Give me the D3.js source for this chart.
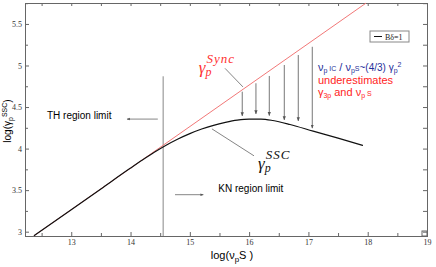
<!DOCTYPE html>
<html>
<head>
<meta charset="utf-8">
<script src="https://cdn.jsdelivr.net/npm/d3@7"></script>
<style>
  body { margin: 0; background: #fff; }
  svg { display: block; }
</style>
</head>
<body>
<script>
// data
var xTicks = [13, 14, 15, 16, 17, 18, 19];
var xMinor = [12.5, 13.5, 14.5, 15.5, 16.5, 17.5, 18.5];
var yTicks = [3, 3.5, 4, 4.5, 5, 5.5];
var yMinor = [3.25, 3.75, 4.25, 4.75, 5.25, 5.75];

var syncX = [12.37, 17.97];
var syncY = [2.95, 5.75];

var sscX = [12.37, 13.0, 13.5, 14.0, 14.2, 14.4, 14.6, 14.8, 15.0, 15.2, 15.4, 15.6, 15.8, 16.0, 16.2, 16.4, 16.69, 17.08, 17.5, 17.92];
var sscY = [2.95, 3.265, 3.515, 3.765, 3.862, 3.955, 4.04, 4.115, 4.18, 4.235, 4.28, 4.315, 4.342, 4.355, 4.355, 4.338, 4.29, 4.21, 4.125, 4.037];

// downward arrows between the two curves
var arrowX = [15.884, 16.115, 16.34, 16.593, 16.829, 17.065];
var arrowTop = [4.685, 4.786, 4.874, 5.006, 5.126, 5.225];
var arrowBottom = [4.393, 4.417, 4.397, 4.345, 4.333, 4.246];

var limitX = 14.55;
var limitTop = 4.87;

var width = 436, height = 267;

var x = d3.scaleLinear().domain([12.22, 19]).range([25, 427]);
var y = d3.scaleLinear().domain([2.948, 5.752]).range([236, 3]);

var svg = d3.select("body").append("svg")
    .attr("width", width)
    .attr("height", height);

var defs = svg.append("defs");
defs.append("marker")
    .attr("id", "head")
    .attr("viewBox", "0 0 10 10")
    .attr("refX", 9).attr("refY", 5)
    .attr("markerWidth", 4).attr("markerHeight", 4)
    .attr("orient", "auto")
  .append("path")
    .attr("d", "M0,1L10,5L0,9Z")
    .attr("fill", "#555");

// axes, ticks pointing inwards
function styleAxis(g) {
    g.select(".domain").attr("stroke", "#666");
    g.selectAll(".tick line").attr("stroke", "#666");
    g.selectAll(".tick text")
        .attr("fill", "#333")
        .style("font-family", "'Liberation Serif', serif")
        .style("font-size", "8px");
}

svg.append("g").attr("transform", "translate(0,236)")
    .call(d3.axisBottom(x).tickValues(xTicks).tickSize(-4).tickPadding(3.5).tickFormat(d3.format("d")))
    .call(styleAxis);
svg.append("g").attr("transform", "translate(0,236)")
    .call(d3.axisBottom(x).tickValues(xMinor).tickSize(-3).tickFormat(""))
    .call(styleAxis);
svg.append("g").attr("transform", "translate(0,3)")
    .call(d3.axisTop(x).tickValues(xTicks.concat(xMinor)).tickSize(-3).tickFormat(""))
    .call(styleAxis);

svg.append("g").attr("transform", "translate(25,0)")
    .call(d3.axisLeft(y).tickValues(yTicks).tickSize(-4).tickPadding(3).tickFormat(d3.format("~g")))
    .call(styleAxis);
svg.append("g").attr("transform", "translate(25,0)")
    .call(d3.axisLeft(y).tickValues(yMinor).tickSize(-3).tickFormat(""))
    .call(styleAxis);
svg.append("g").attr("transform", "translate(427,0)")
    .call(d3.axisRight(y).tickValues(yTicks.concat(yMinor)).tickSize(-4).tickFormat(""))
    .call(styleAxis);

// little square in the corner
svg.append("rect")
    .attr("x", x(19) - 5).attr("y", y(2.948) - 5)
    .attr("width", 5).attr("height", 5)
    .attr("fill", "none").attr("stroke", "#666");

// TH region limit line
svg.append("line")
    .attr("x1", x(limitX)).attr("x2", x(limitX))
    .attr("y1", y(2.948)).attr("y2", y(limitTop))
    .attr("stroke", "#888").attr("stroke-width", 1);

// curves
var line = d3.line()
    .x(function (d) { return x(d[0]); })
    .y(function (d) { return y(d[1]); });

svg.append("path")
    .datum(syncX.map(function (v, i) { return [v, syncY[i]]; }))
    .attr("d", line)
    .attr("fill", "none")
    .attr("stroke", "#f27878")
    .attr("stroke-width", 1);

svg.append("path")
    .datum(sscX.map(function (v, i) { return [v, sscY[i]]; }))
    .attr("d", d3.line().curve(d3.curveMonotoneX)
        .x(function (d) { return x(d[0]); })
        .y(function (d) { return y(d[1]); }))
    .attr("fill", "none")
    .attr("stroke", "#111")
    .attr("stroke-width", 1.2);

// downward arrows
svg.selectAll(".drop")
    .data(arrowX)
    .enter().append("line")
    .attr("class", "drop")
    .attr("x1", function (d) { return x(d); })
    .attr("x2", function (d) { return x(d); })
    .attr("y1", function (d, i) { return y(arrowTop[i]); })
    .attr("y2", function (d, i) { return y(arrowBottom[i]); })
    .attr("stroke", "#777").attr("stroke-width", 1)
    .attr("marker-end", "url(#head)");

// pointer lines and region arrows
function pointer(x1, y1, x2, y2, head) {
    var l = svg.append("line")
        .attr("x1", x(x1)).attr("y1", y(y1))
        .attr("x2", x(x2)).attr("y2", y(y2))
        .attr("stroke", "#666").attr("stroke-width", 0.8);
    if (head) l.attr("marker-end", "url(#head)");
}
pointer(15.593, 4.966, 15.896, 4.742, false);
pointer(15.373, 4.237, 16.082, 3.913, false);
pointer(14.46, 4.355, 13.94, 4.355, true);
pointer(14.75, 3.445, 15.227, 3.445, true);

// texts
var sans = "'Liberation Sans', Arial, sans-serif";
var serif = "'Liberation Serif', serif";

svg.append("text")
    .attr("x", x(12.591)).attr("y", y(4.357))
    .style("font-family", sans).style("font-size", "10px")
    .text("TH region limit");

svg.append("text")
    .attr("x", x(15.48)).attr("y", y(3.475))
    .style("font-family", sans).style("font-size", "10px")
    .text("KN region limit");

// gamma labels
function gammaLabel(gx, gy, sup, color) {
    var t = svg.append("text")
        .attr("x", x(gx)).attr("y", y(gy))
        .attr("fill", color)
        .style("font-family", serif).style("font-style", "italic");
    t.append("tspan").style("font-size", "17px").text("γ");
    t.append("tspan").style("font-size", "12px").attr("dy", 3).text("p");
    t.append("tspan").style("font-size", "13px").attr("dx", -5).attr("dy", -13)
        .attr("letter-spacing", 1).text(sup);
}
gammaLabel(15.15, 4.91, "Sync", "#ff3030");
gammaLabel(16.15, 3.757, "SSC", "#111");

// blue/red note
var note = svg.append("g").style("font-family", sans);
var l1 = note.append("text").attr("x", x(17.16)).attr("y", y(4.93)).attr("fill", "#1f2f9a");
l1.append("tspan").style("font-size", "11px").text("ν");
l1.append("tspan").style("font-size", "7px").attr("dy", 2).text("p");
l1.append("tspan").style("font-size", "7px").attr("dy", -2).text(" IC");
l1.append("tspan").style("font-size", "11px").text(" / ν");
l1.append("tspan").style("font-size", "7px").attr("dy", 2).text("p");
l1.append("tspan").style("font-size", "7px").attr("dy", -2).text("S");
l1.append("tspan").style("font-size", "10px").text("~(4/3) γ");
l1.append("tspan").style("font-size", "7px").attr("dy", 2).text("p");
l1.append("tspan").style("font-size", "7px").attr("dy", -6).text("2");

note.append("text").attr("x", x(17.16)).attr("y", y(4.78)).attr("fill", "#ff2424")
    .style("font-size", "11px").text("underestimates");

var l3 = note.append("text").attr("x", x(17.16)).attr("y", y(4.635)).attr("fill", "#ff2424");
l3.append("tspan").style("font-size", "11px").text("γ");
l3.append("tspan").style("font-size", "7px").attr("dy", 2).text("3p");
l3.append("tspan").style("font-size", "11px").attr("dy", -2).text(" and ν");
l3.append("tspan").style("font-size", "7px").attr("dy", 2).text("p");
l3.append("tspan").style("font-size", "7px").attr("dy", -2).text(" S");

// legend
var legend = svg.append("g").attr("transform", "translate(370,31)");
legend.append("rect").attr("width", 39).attr("height", 11)
    .attr("fill", "#fff").attr("stroke", "#888");
legend.append("line").attr("x1", 4).attr("x2", 12).attr("y1", 5.5).attr("y2", 5.5)
    .attr("stroke", "#111").attr("stroke-width", 1);
legend.append("text").attr("x", 15).attr("y", 8.5)
    .style("font-family", serif).style("font-size", "8px").attr("fill", "#222")
    .text("Bδ=1");

// axis titles
var xt = svg.append("text")
    .attr("x", 232).attr("y", 259)
    .attr("text-anchor", "middle")
    .style("font-family", sans).style("font-size", "11px");
xt.append("tspan").text("log(ν");
xt.append("tspan").style("font-size", "8px").attr("dy", 3).text("p");
xt.append("tspan").attr("dy", -3).text("S )");

var yt = svg.append("text")
    .attr("transform", "translate(11,121) rotate(-90)")
    .attr("text-anchor", "middle")
    .style("font-family", sans).style("font-size", "10px");
yt.append("tspan").text("log(γ");
yt.append("tspan").style("font-size", "7px").attr("dy", 2).text("p");
yt.append("tspan").style("font-size", "7px").attr("dy", -6).text("SSC");
yt.append("tspan").attr("dy", 4).text(")");
</script>
</body>
</html>
